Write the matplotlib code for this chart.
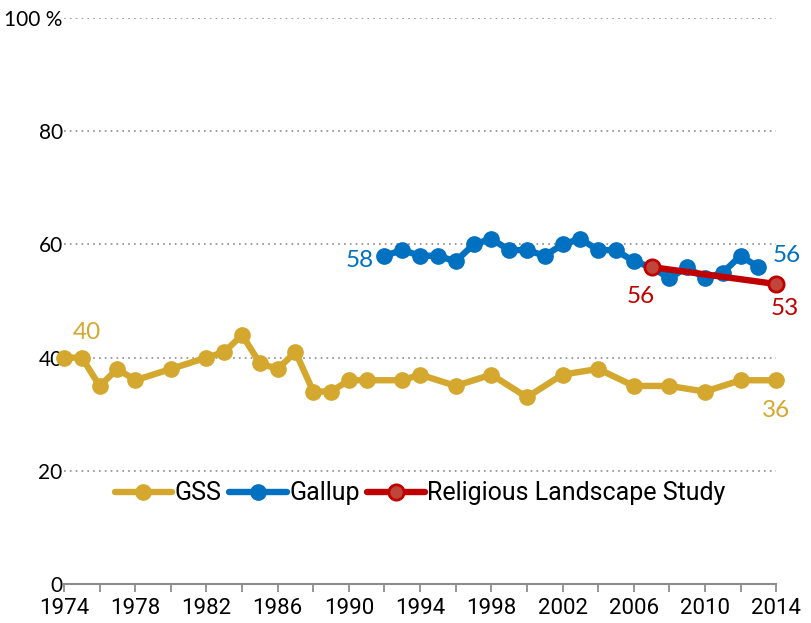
import matplotlib
matplotlib.use("Agg")
import matplotlib.pyplot as plt

# GSS, Gallup and Religious Landscape Study estimates (%)
gss_years = [1974, 1975, 1976, 1977, 1978, 1980, 1982, 1983, 1984, 1985, 1986,
             1987, 1988, 1989, 1990, 1991, 1993, 1994, 1996, 1998, 2000, 2002,
             2004, 2006, 2008, 2010, 2012, 2014]
gss_values = [40, 40, 35, 38, 36, 38, 40, 41, 44, 39, 38,
              41, 34, 34, 36, 36, 36, 37, 35, 37, 33, 37,
              38, 35, 35, 34, 36, 36]

gallup_years = list(range(1992, 2014))
gallup_values = [58, 59, 58, 58, 57, 60, 61, 59, 59, 58, 60,
                 61, 59, 59, 57, 56, 54, 56, 54, 55, 58, 56]

rls_years = [2007, 2014]
rls_values = [56, 53]

yticks = [0, 20, 40, 60, 80, 100]
ytick_labels = ["0", "20", "40", "60", "80", "100 %"]
xticks = list(range(1974, 2015, 4))

GOLD = "#D4A82E"
BLUE = "#0070C0"
RED = "#C00000"

plt.rcParams["font.family"] = ["Roboto", "DejaVu Sans"]

fig = plt.figure(figsize=(8.11, 6.23), dpi=100)
ax = fig.add_axes([0.079, 0.0626, 0.878, 0.9084])

kw = dict(linewidth=4.6, marker="o", markersize=11, clip_on=False,
          solid_capstyle="round", solid_joinstyle="round")
ax.plot(gss_years, gss_values, color=GOLD, label="GSS", zorder=3, **kw)
ax.plot(gallup_years, gallup_values, color=BLUE, label="Gallup", zorder=4, **kw)
ax.plot(rls_years, rls_values, color=RED, markerfacecolor="#C0453A",
        markeredgecolor=RED, markeredgewidth=2,
        label="Religious Landscape Study", zorder=5, **kw)

lab_kw = dict(fontsize=17.5, va="center", family="Lato")
ax.text(1975.3, 44.5, "40", color=GOLD, ha="center", **lab_kw)
ax.text(2014.0, 30.7, "36", color=GOLD, ha="center", **lab_kw)
ax.text(1991.4, 57.1, "58", color=BLUE, ha="right", **lab_kw)
ax.text(2014.6, 58.0, "56", color=BLUE, ha="center", **lab_kw)
ax.text(2006.4, 50.8, "56", color=RED, ha="center", **lab_kw)
ax.text(2014.5, 48.6, "53", color=RED, ha="center", **lab_kw)

ax.set_xlim(1974, 2014)
ax.set_ylim(0, 100)
ax.set_yticks(yticks)
ax.set_yticklabels(ytick_labels)
ax.set_xticks(xticks)
ax.set_xticks(range(1974, 2015, 2), minor=True)

for y in yticks[1:]:
    ax.axhline(y, color="#8C8C8C", linewidth=1.2, linestyle=(0, (1, 2.5)), zorder=1)

for side in ["left", "right", "top"]:
    ax.spines[side].set_visible(False)
ax.spines["bottom"].set_color("#8C8C8C")
ax.spines["bottom"].set_linewidth(1.5)

ax.tick_params(axis="y", length=0, pad=1, labelsize=15)
ax.tick_params(axis="x", which="both", direction="out", length=6, width=1.3,
               color="#8C8C8C", labelsize=16, pad=4)
for lab in ax.get_yticklabels():
    lab.set_fontfamily("Lato")

ax.legend(loc="center", bbox_to_anchor=(0.5, 0.16), ncol=3, frameon=False,
          handlelength=2.3, handletextpad=0.1, columnspacing=0.3,
          fontsize=18)

fig.savefig("out.png", dpi=100)
